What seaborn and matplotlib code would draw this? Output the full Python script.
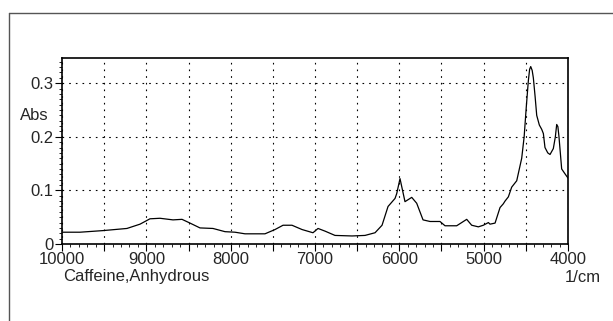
"""
NIR absorbance spectrum of anhydrous caffeine, redrawn with seaborn.
"""

import matplotlib
matplotlib.use('Agg')
import matplotlib.pyplot as plt
import matplotlib.ticker as mticker
from matplotlib.lines import Line2D
import pandas as pd
import seaborn as sns

# Spectrum (wavenumber in 1/cm, absorbance)
wavenumber = [10000, 9787, 9514, 9230, 9075, 8957, 8838, 8684, 8577, 8482,
              8364, 8210, 8067, 7949, 7830, 7593, 7474, 7379, 7273, 7154,
              7024, 6964, 6881, 6763, 6561, 6407, 6288, 6205, 6134, 6051,
              6031, 5992, 5933, 5853, 5794, 5719, 5636, 5518, 5458, 5320,
              5201, 5142, 5063, 5004, 4944, 4925, 4865, 4806, 4767, 4747,
              4707, 4668, 4608, 4549, 4520, 4495, 4470, 4455, 4442, 4425,
              4411, 4390, 4371, 4340, 4312, 4292, 4273, 4240, 4213, 4174,
              4150, 4134, 4120, 4107, 4075, 4036, 4000]
absorbance = [0.022, 0.022, 0.025, 0.029, 0.037, 0.047, 0.048, 0.045, 0.046,
              0.039, 0.030, 0.029, 0.023, 0.022, 0.019, 0.019, 0.027, 0.035,
              0.035, 0.027, 0.021, 0.029, 0.024, 0.016, 0.015, 0.016, 0.021,
              0.035, 0.070, 0.085, 0.094, 0.122, 0.079, 0.087, 0.076, 0.045,
              0.042, 0.042, 0.034, 0.034, 0.046, 0.035, 0.032, 0.035, 0.040,
              0.037, 0.039, 0.068, 0.075, 0.080, 0.088, 0.106, 0.118, 0.160,
              0.200, 0.255, 0.305, 0.326, 0.331, 0.324, 0.310, 0.275, 0.240,
              0.222, 0.214, 0.206, 0.180, 0.170, 0.167, 0.178, 0.200, 0.223,
              0.219, 0.200, 0.140, 0.131, 0.123]


def main():
    """Draw the spectrum and save it as out.png."""
    df = pd.DataFrame({'wavenumber': wavenumber, 'absorbance': absorbance})

    sns.set_style('white')
    plt.rcParams['font.family'] = ['Liberation Sans', 'DejaVu Sans']

    fig = plt.figure(figsize=(6.13, 3.21), dpi=100)
    ax = fig.add_axes([62 / 613, 77 / 321, 506 / 613, 186 / 321])

    sns.lineplot(data=df, x='wavenumber', y='absorbance', ax=ax,
                 color='black', linewidth=0.9, sort=False)

    ax.set_xlim(10000, 4000)
    ax.set_ylim(0, 0.347)

    # ticks: x major every 500 (labelled every 1000), minor every 100
    ax.xaxis.set_major_locator(mticker.MultipleLocator(500))
    ax.xaxis.set_minor_locator(mticker.MultipleLocator(100))
    ax.xaxis.set_major_formatter(mticker.FuncFormatter(
        lambda v, p: f'{int(v)}' if int(round(v)) % 1000 == 0 else ''))
    ax.yaxis.set_major_locator(mticker.MultipleLocator(0.1))
    ax.yaxis.set_minor_locator(mticker.MultipleLocator(0.01))
    ax.yaxis.set_major_formatter(mticker.FuncFormatter(
        lambda v, p: '0' if abs(v) < 1e-9 else f'{v:.1f}'))

    fs = 12
    ax.tick_params(axis='both', which='major', direction='out', length=5,
                   width=0.8, color='black', labelsize=fs, pad=1)
    ax.tick_params(axis='both', which='minor', direction='out', length=2.5,
                   width=0.6, color='black')
    ax.tick_params(axis='both', bottom=True, left=True, which='both')

    ax.grid(True, which='major', color='black', linewidth=0.8,
            linestyle=(0, (1.5, 4.5)))
    for s in ax.spines.values():
        s.set_color('black')
        s.set_linewidth(1.2)

    ax.set_xlabel('')
    ax.set_ylabel('')

    fig.text(49 / 613, 1 - 116 / 321, 'Abs', ha='right', va='center',
             fontsize=fs)
    fig.text(63 / 613, 1 - 276 / 321, 'Caffeine,Anhydrous', ha='left',
             va='center', fontsize=fs)
    fig.text(565 / 613, 1 - 277 / 321, '1/cm', ha='left', va='center',
             fontsize=fs)

    # outer frame, only left and top edges visible
    fig.add_artist(Line2D([9 / 613, 9 / 613], [0, 1 - 13 / 321],
                          transform=fig.transFigure, color='#555555', lw=1))
    fig.add_artist(Line2D([9 / 613, 1], [1 - 13 / 321, 1 - 13 / 321],
                          transform=fig.transFigure, color='#555555', lw=1))

    fig.savefig('out.png', dpi=100)


if __name__ == '__main__':
    main()
